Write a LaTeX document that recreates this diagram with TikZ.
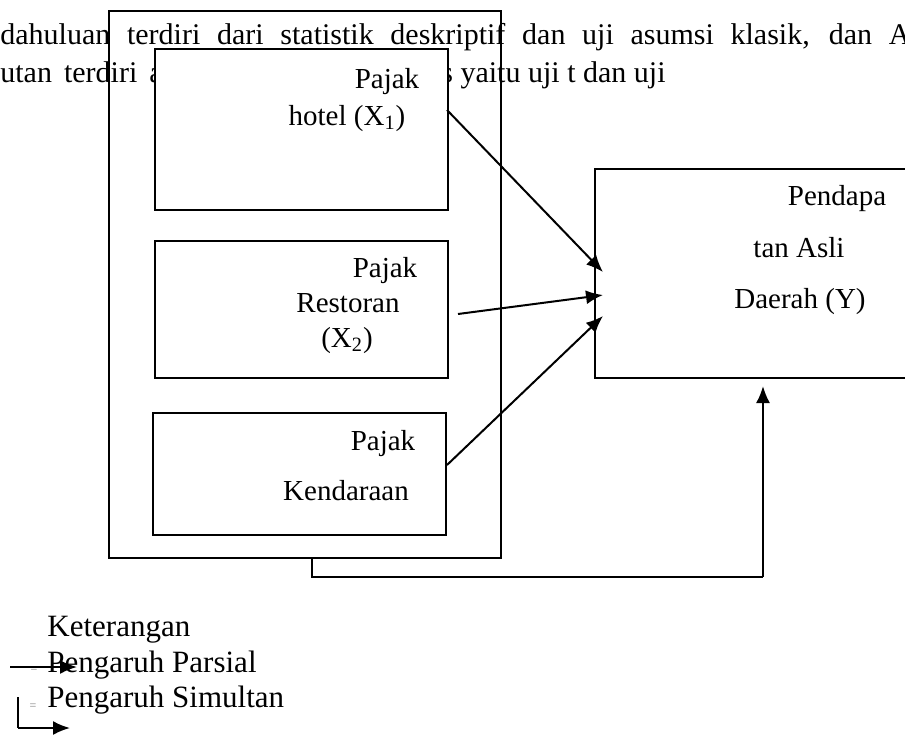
\documentclass[tikz,border=0pt]{standalone}
\usepackage{fontspec}
\setmainfont{Liberation Serif}
\usetikzlibrary{arrows.meta}
\begin{document}
\begin{tikzpicture}[x=0.5pt,y=-0.5pt,
  box/.style={draw,line width=1pt,inner sep=0pt,anchor=north west},
  wbox/.style={box,fill=white},
  lbl/.style={inner sep=0pt,anchor=base,font=\fontsize{14.5}{17}\selectfont},
  toptxt/.style={inner sep=0pt,anchor=base west,font=\fontsize{15}{17}\selectfont},
  legtxt/.style={inner sep=0pt,anchor=base west,font=\fontsize{15.5}{18}\selectfont},
  eqs/.style={inner sep=0pt,text=gray,font=\fontsize{6}{6}\selectfont},
  arr/.style={line width=1pt,-{Latex[length=8.5pt,width=7pt]}},
  conn/.style={line width=1pt}]
\clip (0,0) rectangle (905,734);
% background paragraph text
\node[toptxt] (t1) at (0,44) {\makebox[455pt][s]{dahuluan terdiri dari statistik deskriptif dan uji asumsi klasik, dan A}};
\node[toptxt] (t2a) at (0,82) {utan\hspace{6pt}terdiri\hspace{6pt}a};
\node[toptxt] (t2b) at (441,82) {s yaitu uji t dan uji};
% boxes
\node[box,minimum width=196pt,minimum height=273.5pt] (outer) at (108,10) {};
\node[wbox,minimum width=146.5pt,minimum height=80.5pt] (hotel) at (154,48) {};
\node[wbox,minimum width=146.5pt,minimum height=68.5pt] (resto) at (154,240) {};
\node[wbox,minimum width=146.5pt,minimum height=61pt] (kend) at (152,412) {};
\node[wbox,minimum width=163pt,minimum height=104.5pt] (pad) at (594,168) {};
% labels
\node[lbl] (h1) at (387,88) {Pajak};
\node[lbl] (h2) at (347,125) {hotel (X\textsubscript{1})};
\node[lbl] (r1) at (385,277) {Pajak};
\node[lbl] (r2) at (348,312) {Restoran};
\node[lbl] (r3) at (347,347) {(X\textsubscript{2})};
\node[lbl] (k1) at (383,450) {Pajak};
\node[lbl] (k2) at (346,500) {Kendaraan};
\node[lbl] (p1) at (837,205) {Pendapa};
\node[lbl] (p2) at (799,257) {tan Asli};
\node[lbl] (p3) at (800,308) {Daerah (Y)};
% connector end points
\coordinate (hs) at (447,110);
\coordinate (he) at (603,272);
\coordinate (rs) at (458,314);
\coordinate (re) at (603,295);
\coordinate (ks) at (447,465);
\coordinate (ke) at (603,316);
\coordinate (ss) at (312,557);
\coordinate (s1) at (312,577);
\coordinate (s2) at (763,577);
\coordinate (se) at (763,386);
\draw[arr] (hs) -- (he);
\draw[arr] (rs) -- (re);
\draw[arr] (ks) -- (ke);
\draw[conn] (ss) -- (s1) -- (s2);
\draw[arr] (s2) -- (se);
% legend
\node[legtxt] (lk) at (47,636) {Keterangan};
\node[legtxt] (lp) at (47,672) {Pengaruh Parsial};
\node[legtxt] (ls) at (47,707) {Pengaruh Simultan};
\node[eqs] (e1) at (34,670) {=};
\node[eqs] (e2) at (33,707) {=};
\coordinate (la) at (10,667);
\coordinate (lb) at (77,667);
\coordinate (lc) at (18,697);
\coordinate (ld) at (18,728);
\coordinate (le) at (70,728);
\draw[arr] (la) -- (lb);
\draw[conn] (lc) -- (ld);
\draw[arr] (ld) -- (le);
\end{tikzpicture}
\end{document}
